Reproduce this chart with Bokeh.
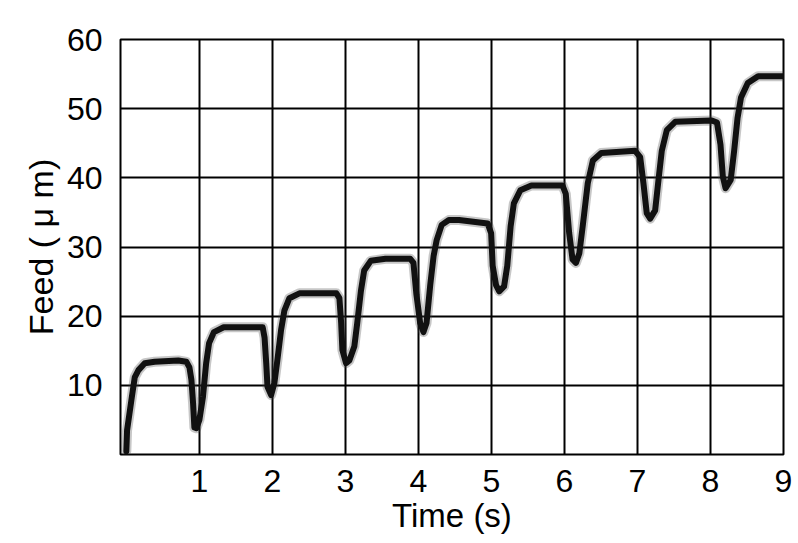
from bokeh.plotting import figure
from bokeh.models import FixedTicker, Range1d
from bokeh.embed import file_html
from bokeh.resources import INLINE

# Time (s) and Feed (um)
time_s = [0.0, 0.01, 0.075, 0.116, 0.166, 0.252, 0.388, 0.71, 0.823, 0.864, 0.891, 0.914, 0.932, 0.959,
          1.0, 1.049, 1.093, 1.133, 1.2, 1.333, 1.6, 1.867, 1.893, 1.916, 1.933, 1.983,
          2.027, 2.068, 2.119, 2.164, 2.233, 2.37, 2.877, 2.918, 2.942, 2.959,
          3.009, 3.054, 3.122, 3.162, 3.212, 3.257, 3.347, 3.55, 3.888, 3.932, 3.973,
          4.024, 4.069, 4.111, 4.162, 4.208, 4.25, 4.319, 4.417, 4.556, 4.949, 4.996,
          5.017, 5.063, 5.107, 5.173, 5.217, 5.263, 5.307, 5.396, 5.547, 5.973,
          6.018, 6.065, 6.111, 6.157, 6.204, 6.25, 6.319, 6.389, 6.504, 6.968,
          7.037, 7.082, 7.127, 7.174, 7.242, 7.288, 7.333, 7.402, 7.517,
          8.018, 8.089, 8.137, 8.169, 8.207, 8.277, 8.324, 8.37, 8.418, 8.511, 8.652, 9.1]
feed_um = [0.5, 3.5, 8.3, 11.2, 12.2, 13.2, 13.4, 13.6, 13.4, 12.6, 10.8, 7.4, 3.9, 3.8,
           5.0, 8.3, 13.2, 16.1, 17.7, 18.4, 18.4, 18.4, 16.9, 13.2, 9.8, 8.6,
           10.3, 13.6, 18.0, 20.8, 22.6, 23.3, 23.3, 22.6, 19.0, 15.1,
           13.2, 13.6, 15.6, 19.0, 23.6, 26.6, 28.0, 28.3, 28.3, 27.7, 23.1,
           19.0, 17.7, 19.0, 24.5, 28.7, 31.0, 33.2, 33.9, 33.9, 33.4, 32.0,
           27.3, 24.5, 23.6, 24.3, 27.3, 33.0, 36.3, 38.2, 38.9, 38.9,
           37.7, 32.0, 28.2, 27.7, 29.1, 33.0, 39.2, 42.5, 43.6, 43.9,
           43.0, 39.2, 34.9, 34.1, 35.3, 39.7, 43.9, 46.9, 48.1,
           48.3, 48.0, 44.8, 40.2, 38.5, 39.7, 43.9, 48.6, 51.6, 53.7, 54.7, 54.7]

x_ticks = [1, 2, 3, 4, 5, 6, 7, 8, 9]
y_ticks = [10, 20, 30, 40, 50, 60]

FONT = "Liberation Sans"

p = figure(frame_width=663, frame_height=415,
           x_range=Range1d(-0.08, 9.0), y_range=Range1d(0, 60),
           output_backend="svg", toolbar_location=None,
           min_border_left=120, min_border_right=14, min_border_top=39, min_border_bottom=80,
           background_fill_color="white", border_fill_color="white")

p.outline_line_color = "#000000"
p.outline_line_width = 2

for ax in (p.xaxis[0], p.yaxis[0]):
    ax.axis_line_color = None
    ax.major_tick_line_color = None
    ax.minor_tick_line_color = None
    ax.major_label_text_font = FONT
    ax.major_label_text_font_size = "32px"
    ax.major_label_text_color = "#000000"
    ax.axis_label_text_font = FONT
    ax.axis_label_text_font_style = "normal"
    ax.axis_label_text_color = "#000000"

p.xaxis.axis_label_text_font_size = "33px"
p.yaxis.axis_label_text_font_size = "34px"
p.xaxis.ticker = FixedTicker(ticks=x_ticks)
p.yaxis.ticker = FixedTicker(ticks=y_ticks)
p.xaxis.major_label_standoff = 9
p.yaxis.major_label_standoff = 12
p.xaxis.axis_label = "Time (s)"
p.yaxis.axis_label = "Feed ( \u03bc m)"
p.xaxis.axis_label_standoff = 2
p.yaxis.axis_label_standoff = 4

p.xgrid.ticker = FixedTicker(ticks=x_ticks)
p.ygrid.ticker = FixedTicker(ticks=y_ticks)
for g in (p.xgrid[0], p.ygrid[0]):
    g.grid_line_color = "#000000"
    g.grid_line_width = 2
    g.grid_line_alpha = 1.0

# blurred thick trace: soft halo + dark core
p.line(time_s, feed_um, line_color="#444444", line_width=10, line_alpha=0.3, line_join="round", line_cap="round")
p.line(time_s, feed_um, line_color="#111111", line_width=6, line_join="round", line_cap="round")

open("out.html", "w").write(file_html(p, INLINE))
